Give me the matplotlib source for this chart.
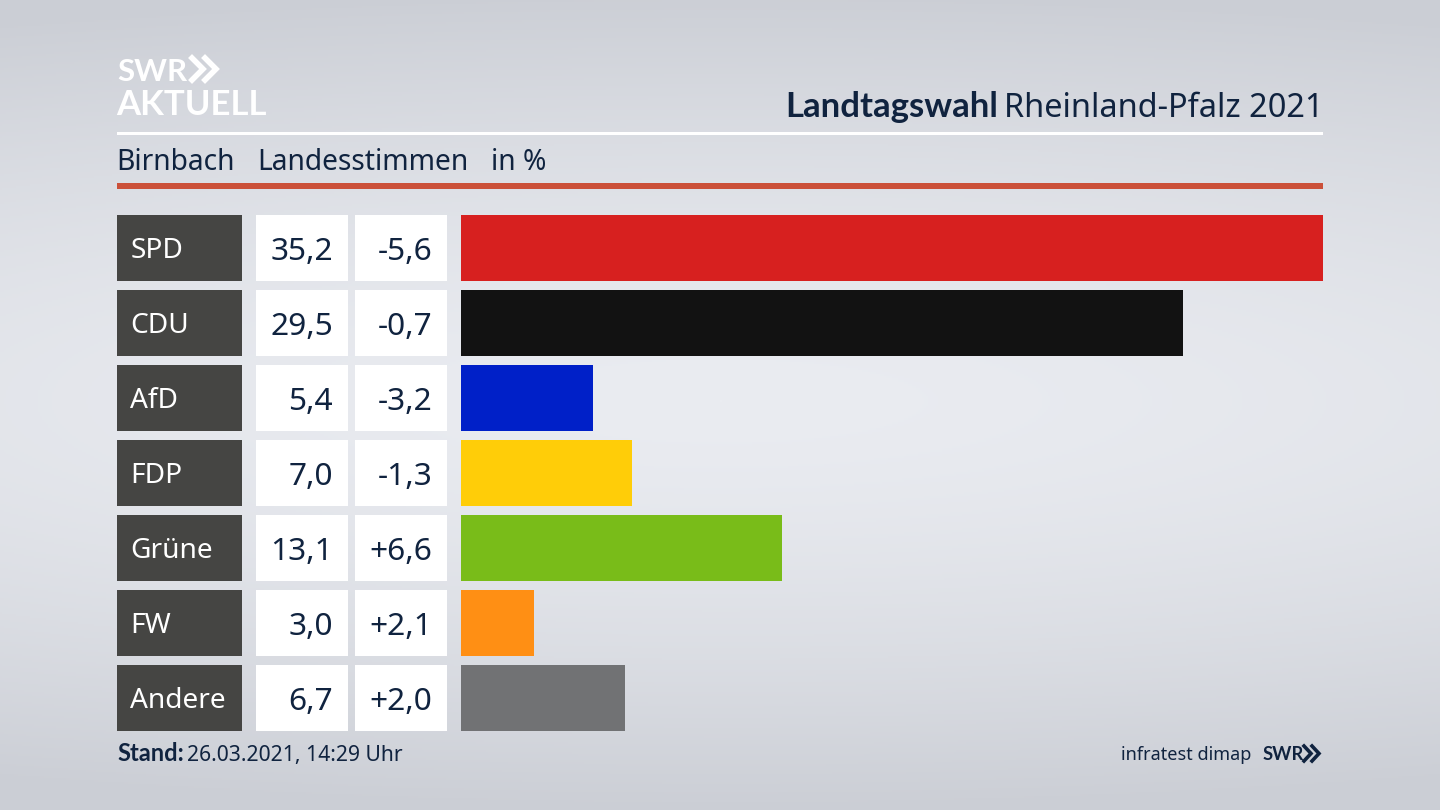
# Landtagswahl RLP 2021 - Birnbach, Landesstimmen
import numpy as np
import matplotlib
matplotlib.use('Agg')
import matplotlib.pyplot as plt
from matplotlib.patches import Rectangle

plt.rcParams['font.family'] = ['Noto Sans', 'DejaVu Sans']
# Noto Sans comes without a real bold cut here
bold_font = ['Lato', 'DejaVu Sans']

parties = ['SPD', 'CDU', 'AfD', 'FDP', 'Grüne', 'FW', 'Andere']
shares = [35.2, 29.5, 5.4, 7.0, 13.1, 3.0, 6.7]
share_labels = ['35,2', '29,5', '5,4', '7,0', '13,1', '3,0', '6,7']
diff_labels = ['-5,6', '-0,7', '-3,2', '-1,3', '+6,6', '+2,1', '+2,0']
colors = ['#d7201f', '#121212', '#0020c8', '#ffcd08', '#79bc19', '#ff8f14', '#717274']

navy = '#10233f'
row_top = 215
row_pitch = 75
row_h = 66.2

fig = plt.figure(figsize=(14.4, 8.1), dpi=100)

# background, pixel coordinates for the whole frame
ax = fig.add_axes([0, 0, 1, 1])
ax.set_xlim(0, 1440)
ax.set_ylim(810, 0)
ax.axis('off')

yy, xx = np.mgrid[0:810:2, 0:1440:2]
r = np.sqrt(((xx - 720) / 2000) ** 2 + ((yy - 400) / 410) ** 2)
r = np.clip(r, 0, 1)
top = np.array([0xea, 0xec, 0xf1]) / 255
edge = np.array([0xcb, 0xce, 0xd5]) / 255
bg = top + (edge - top) * (r ** 1.5)[..., None]
ax.imshow(bg, extent=(0, 1440, 810, 0), aspect='auto', zorder=0)

# logo
ax.text(117, 81, 'SWR', color='white', fontsize=22.5, fontweight='bold', family=bold_font, va='baseline', ha='left', zorder=3)
ax.text(116, 115, 'AKTUELL', color='white', fontsize=25, fontweight='bold', family=bold_font, va='baseline', ha='left', zorder=3)
for x0 in (192, 205):
    ax.plot([x0, x0 + 11, x0], [58, 69, 80], color='white', lw=4, solid_joinstyle='miter', zorder=3)

# header
ax.text(785, 117, 'Landtagswahl', color=navy, fontsize=25, fontweight='bold', family=bold_font, va='baseline', ha='left', zorder=3)
ax.text(1323, 117, 'Rheinland-Pfalz 2021', color=navy, fontsize=23.4, va='baseline', ha='right', zorder=3)
ax.add_patch(Rectangle((117, 132), 1206, 3, color='white', lw=0, zorder=2))

ax.text(116, 170, 'Birnbach', color=navy, fontsize=20.3, va='baseline', zorder=3)
ax.text(257, 170, 'Landesstimmen', color=navy, fontsize=20.3, va='baseline', zorder=3)
ax.text(491, 170, 'in %', color=navy, fontsize=20.3, va='baseline', zorder=3)
ax.add_patch(Rectangle((117, 183), 1206, 6, color='#cb5039', lw=0, zorder=2))

# table cells
for i, party in enumerate(parties):
    y = row_top + i * row_pitch
    mid = y + row_h / 2 + 10.5
    ax.add_patch(Rectangle((117, y), 124.5, row_h, color='#454543', lw=0, zorder=2))
    ax.add_patch(Rectangle((256, y), 92, row_h, color='white', lw=0, zorder=2))
    ax.add_patch(Rectangle((355, y), 92, row_h, color='white', lw=0, zorder=2))
    ax.text(130.5, mid - 1, party, color='white', fontsize=20.2, va='baseline', zorder=3)
    ax.text(333, mid + 1, share_labels[i], color=navy, fontsize=22.8, va='baseline', ha='right', zorder=3)
    ax.text(432.5, mid + 1, diff_labels[i], color=navy, fontsize=22.8, va='baseline', ha='right', zorder=3)

# footer
ax.text(117, 761, 'Stand:', color=navy, fontsize=17, fontweight='bold', family=bold_font, va='baseline', zorder=3)
ax.text(187, 761, '26.03.2021, 14:29 Uhr', color=navy, fontsize=15.2, va='baseline', zorder=3)
ax.text(1251, 760, 'infratest dimap', color=navy, fontsize=13, va='baseline', ha='right', zorder=3)
ax.text(1263, 760, 'SWR', color=navy, fontsize=13.2, fontweight='bold', family=bold_font, va='baseline', zorder=3)
for x0 in (1304, 1312):
    ax.plot([x0, x0 + 7, x0], [746, 753.5, 761], color=navy, lw=2.6, solid_joinstyle='miter', zorder=3)

# bars, scale so that the largest share fills the width
bar_ax = fig.add_axes([461 / 1440, (810 - (row_top + 6 * row_pitch + row_h)) / 810, 862 / 1440, (6 * row_pitch + row_h) / 810])
bar_ax.patch.set_alpha(0)
bar_ax.barh(range(len(parties)), shares, height=row_h / row_pitch, color=colors)
bar_ax.set_xlim(0, max(shares))
bar_ax.set_ylim(6 + row_h / row_pitch / 2, -row_h / row_pitch / 2)
bar_ax.axis('off')

fig.savefig('out.png', dpi=100)
